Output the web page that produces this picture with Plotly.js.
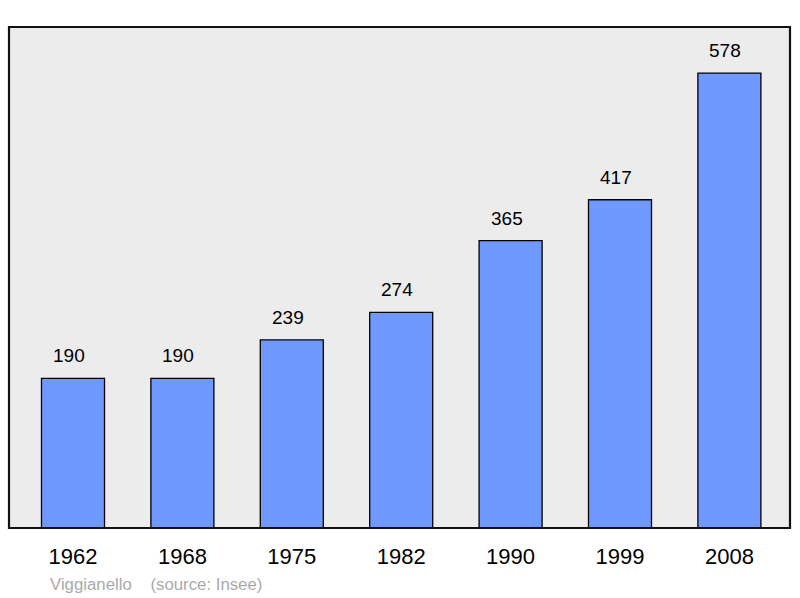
<!DOCTYPE html>
<html><head><meta charset="utf-8">
<script src="https://cdn.plot.ly/plotly-3.0.1.min.js"></script>
<style>body{margin:0;background:#fff}#c{width:800px;height:598px}</style>
</head><body><div id="c"></div>
<script>
const years = ["1962","1968","1975","1982","1990","1999","2008"];
const population = [190,190,239,274,365,417,578];
const footnote = "Viggianello\u00a0\u00a0\u00a0\u00a0(source: Insee)";

const xIdx = years.map((_, i) => i);
const trace = {
  type: 'bar', x: xIdx, y: population, width: 0.576,
  marker: {color: '#7099ff', line: {color: '#000', width: 1.3}},
  hoverinfo: 'skip'
};
const ann = population.map((v, i) => ({
  x: i, y: v, xref: 'x', yref: 'y', text: String(v), showarrow: false,
  yanchor: 'bottom', yshift: 10, xshift: -4,
  font: {family: 'Liberation Sans, Arial, sans-serif', size: 19, color: '#000'}
}));
ann.push({xref: 'paper', yref: 'paper', x: 0.05, y: -0.112, xanchor: 'left', yanchor: 'middle',
  text: footnote, showarrow: false,
  font: {family: 'Liberation Sans, Arial, sans-serif', size: 16.8, color: '#aaaaaa'}});
const layout = {
  width: 800, height: 598,
  margin: {l: 9, r: 10, t: 27, b: 70},
  paper_bgcolor: '#fff', plot_bgcolor: '#ececec',
  showlegend: false,
  xaxis: {range: [-0.585, 6.554], tickvals: xIdx, ticktext: years, ticks: '', showgrid: false,
    zeroline: false, showline: false, ticklabelstandoff: 13,
    tickfont: {family: 'Liberation Sans, Arial, sans-serif', size: 22, color: '#000'}},
  yaxis: {range: [0, 636.5], showticklabels: false, ticks: '', showgrid: false, zeroline: false, showline: false},
  annotations: ann,
  shapes: [{type: 'rect', xref: 'paper', yref: 'paper', x0: 0, x1: 1, y0: 0, y1: 1,
    line: {color: '#111', width: 2.2}, layer: 'above'}]
};
Plotly.newPlot('c', [trace], layout, {staticPlot: true});
</script></body></html>
